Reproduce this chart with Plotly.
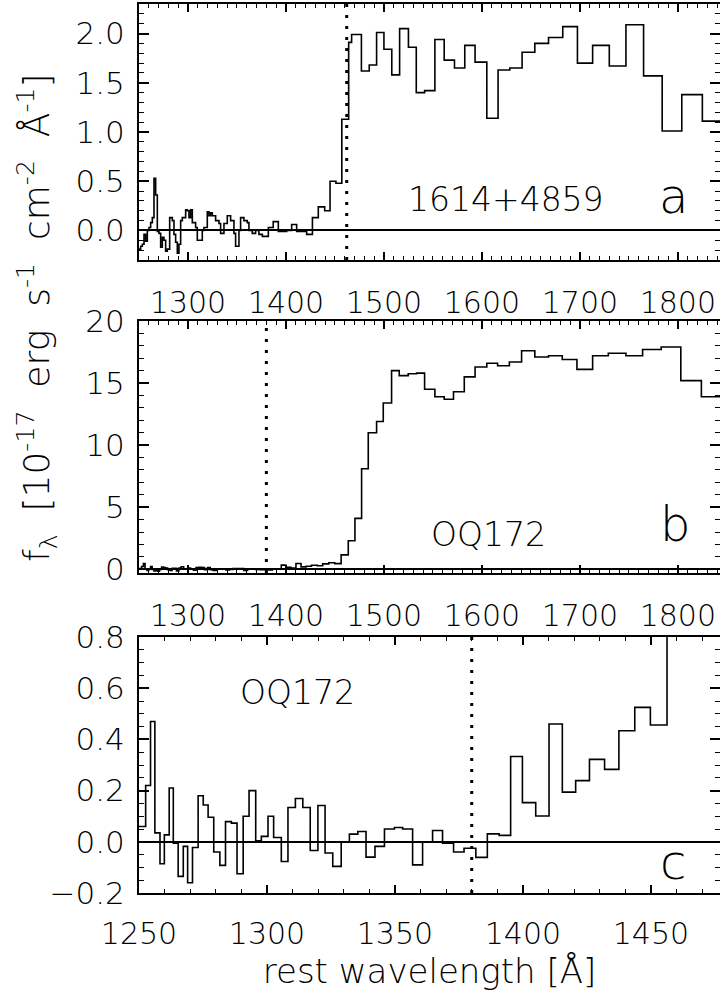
import plotly.graph_objects as go

# ---------------- data ----------------
# 1614+4859 : bin start wavelengths (rest, Angstrom) and flux (1e-17 erg/s/cm2/A)
a_lo = [1250, 1251.7, 1253.4, 1255.1, 1256.8, 1258.5, 1260.2, 1261.9, 1263.6, 1265.3,
        1267, 1268.7, 1270.4, 1272.1, 1273.8, 1275.5, 1277.2, 1278.9, 1281.3, 1284,
        1285.7, 1287.4, 1289.1, 1290.8, 1292.5, 1294.2, 1297.6, 1299.3, 1301, 1302.7,
        1304.4, 1307.8, 1309.5, 1314.6, 1316.3, 1319.7, 1321.4, 1323.1, 1324.8, 1328.2,
        1331.6, 1333.3, 1336.7, 1340.1, 1343.5, 1346.9, 1348.6, 1352, 1353.7, 1357.1,
        1360.5, 1362.2, 1365.6, 1369, 1372.4, 1375.9, 1382, 1387, 1392.2, 1400.7,
        1405.8, 1410.9, 1421.1,
        1427, 1433, 1439.5, 1445, 1451, 1457, 1464, 1467, 1477, 1485,
        1492.5, 1500, 1508, 1516, 1525, 1533, 1541.5, 1552, 1561.5, 1572,
        1582.5, 1593, 1605, 1616.5, 1628.5, 1641, 1654, 1668, 1682.5, 1697.5,
        1713, 1730, 1747, 1765, 1784, 1804, 1825]
a_flux = [-0.19, -0.16, -0.14, -0.04, -0.11, 0.0, 0.03, 0.08, 0.13, 0.53,
          0.36, -0.01, -0.03, -0.17, -0.07, -0.10, -0.21, -0.19, 0.13, 0.10,
          -0.04, -0.12, -0.23, -0.14, 0.10, 0.13, 0.21, 0.20, 0.13, 0.21,
          0.08, 0.03, -0.10, 0.0, 0.03, 0.19, 0.15, 0.18, 0.15, 0.10,
          0.07, -0.03, 0.07, 0.15, 0.10, -0.03, -0.16, 0.0, 0.13, 0.10,
          0.08, 0.0, -0.03, 0.0, -0.04, -0.06, 0.03, 0.09, -0.01, 0.0,
          0.06, -0.01, -0.04,
          0.13, 0.24, 0.20, 0.50, 0.48, 1.13, 1.91, 1.99, 1.62, 1.68,
          2.01, 1.84, 1.58, 2.05, 1.86, 1.40, 1.42, 1.94, 1.73, 1.65,
          1.88, 1.71, 1.14, 1.63, 1.65, 1.81, 1.90, 1.96, 2.07, 1.70,
          1.88, 1.67, 2.09, 1.57, 1.01, 1.38, 1.11]
a_end = 1847

# OQ172 : bin start wavelengths and flux (used for panels b and c)
q_lo = [1250, 1252.6, 1254.5, 1256.2, 1258.2, 1259.9, 1261.8, 1263.4, 1265.3, 1267.3,
        1269, 1270.9, 1273.1, 1275.1, 1277, 1279.2, 1281.6, 1283.8, 1286.1, 1288.3,
        1290.7, 1293, 1295.6, 1297.8, 1300.4, 1302.6, 1305.6, 1308.2, 1311.1, 1314,
        1316.9, 1319.9, 1322.7, 1325.7, 1329, 1332.2, 1335.5, 1338.7, 1342.2, 1345.9,
        1349.8, 1353, 1356.9, 1360.8, 1364.7, 1368.6, 1372.9, 1377, 1381.6, 1386.1,
        1390.7, 1395.2, 1399.8, 1405, 1410.2, 1415.4, 1420.6, 1426, 1431.9, 1437.5,
        1443.7, 1449.8, 1456.3, 1463.6, 1470.4, 1477.2, 1484, 1492.5, 1499.3, 1507.8,
        1515.6, 1524.8, 1533.3, 1541.5, 1552, 1561.5, 1571, 1582, 1593, 1605,
        1616, 1628, 1640.5, 1654, 1668, 1682, 1697, 1713, 1729, 1747,
        1764, 1783, 1803, 1824]
q_flux = [0.06, 0.22, 0.47, 0.035, -0.086, 0.027, 0.21, -0.005, -0.135, -0.018,
          -0.16, -0.022, 0.18, 0.144, 0.096, -0.04, -0.092, 0.079, 0.073, -0.125,
          0.10, 0.20, 0.004, 0.021, 0.10, 0.017, -0.077, 0.134, 0.169, 0.134,
          -0.034, 0.142, -0.044, -0.096, 0.0, 0.03, 0.04, -0.06, -0.018, 0.05,
          0.056, 0.05, -0.09, 0.0, 0.044, -0.005, -0.04, -0.025, -0.061, 0.031,
          0.025, 0.333, 0.153, 0.101, 0.46, 0.194, 0.239, 0.322, 0.283, 0.434,
          0.525, 0.456, 1.16, 2.3, 4.1, 8.1, 11.0, 11.9, 13.4, 16.0,
          15.6, 15.75, 15.8, 14.5, 13.9, 13.7, 14.3, 15.5, 16.3, 16.6,
          16.4, 16.7, 17.6, 17.1, 17.2, 16.9, 16.1, 17.2, 17.4, 17.2,
          17.7, 17.9, 15.2, 13.9]
q_end = 1847

# dotted reference wavelengths
mark_a = 1462
mark_b = 1380
mark_c = 1380

FONT = "DejaVu Sans"
WEIGHT = 200

def steps(lo, flux, end):
    return list(lo) + [end], list(flux) + [flux[-1]]

def fnt(size):
    return dict(family=FONT, size=size, color="black", weight=WEIGHT)

fig = go.Figure()
line = dict(color="black", width=1.6, shape="hv")
xa, ya = steps(a_lo, a_flux, a_end)
xq, yq = steps(q_lo, q_flux, q_end)
fig.add_trace(go.Scatter(x=xa, y=ya, mode="lines", line=line, xaxis="x", yaxis="y", showlegend=False))
fig.add_trace(go.Scatter(x=xq, y=yq, mode="lines", line=line, xaxis="x2", yaxis="y2", showlegend=False))
fig.add_trace(go.Scatter(x=xq, y=yq, mode="lines", line=line, xaxis="x3", yaxis="y3", showlegend=False))

H = 998.0
W = 720.0
xdom = [139 / W, 1.0]
dom_a = [1 - 260 / H, 1 - 4 / H]
dom_b = [1 - 573 / H, 1 - 321 / H]
dom_c = [1 - 893 / H, 1 - 637 / H]

def xax(rng, dtick, t0, minor, anchor, standoff):
    return dict(domain=xdom, range=rng, anchor=anchor, dtick=dtick, tick0=t0,
                ticks="inside", ticklen=8, tickwidth=1.5, tickcolor="black",
                minor=dict(dtick=minor, ticks="inside", ticklen=4, tickwidth=1.2, tickcolor="black"),
                mirror="ticks", showline=True, linecolor="black", linewidth=2,
                showgrid=False, zeroline=False, automargin=False,
                tickfont=fnt(30), ticklabelstandoff=standoff)

def yax(rng, dtick, minor, dom, anchor, fmt=None):
    d = dict(domain=dom, range=rng, anchor=anchor, dtick=dtick, tick0=0,
             ticks="inside", ticklen=10, tickwidth=1.5, tickcolor="black",
             minor=dict(dtick=minor, ticks="inside", ticklen=5, tickwidth=1.2, tickcolor="black"),
             mirror="ticks", showline=True, linecolor="black", linewidth=2,
             showgrid=False, zeroline=True, zerolinecolor="black", zerolinewidth=1.5,
             automargin=False, tickfont=fnt(31), ticklabelstandoff=6)
    if fmt:
        d["tickformat"] = fmt
    return d

fig.update_layout(
    width=720, height=998,
    margin=dict(l=0, r=0, t=0, b=0, autoexpand=False),
    paper_bgcolor="white", plot_bgcolor="white",
    xaxis=xax([1250, 1843], 100, 1300, 10, "y", 15),
    xaxis2=xax([1250, 1843], 100, 1300, 10, "y2", 15),
    xaxis3=xax([1250, 1477], 50, 1250, 10, "y3", 13),
    yaxis=yax([-0.3, 2.3], 0.5, 0.1, dom_a, "x", ".1f"),
    yaxis2=yax([-0.3, 20], 5, 1, dom_b, "x2"),
    yaxis3=yax([-0.2, 0.8], 0.2, 0.05, dom_c, "x3", ".1f"),
)
fig.layout.xaxis3.title = dict(text="rest wavelength [Å]", font=fnt(34), standoff=6)

dot = dict(color="black", width=3, dash="3px,8px")
for xr, yr, xv in (("x", "y", mark_a), ("x2", "y2", mark_b), ("x3", "y3", mark_c)):
    fig.add_shape(type="line", xref=xr, yref=yr + " domain", x0=xv, x1=xv, y0=0, y1=1, line=dot)

def ann(text, x, y, size, **kw):
    fig.add_annotation(text=text, x=x, y=y, xref="paper", yref="paper", showarrow=False,
                       xanchor="center", yanchor="middle", font=fnt(size), **kw)

ann("1614+4859", 506 / W, 1 - 200 / H, 33)
ann("a", 673 / W, 1 - 196 / H, 48)
ann("OQ172", 488 / W, 1 - 534 / H, 33)
ann("b", 675 / W, 1 - 524 / H, 48)
ann("OQ172", 297 / W, 1 - 692 / H, 33)
ann("c", 673 / W, 1 - 862 / H, 48)
sp = "\u00a0"
ann("f<sub>λ</sub>" + sp + " [10<sup>-17</sup>" + sp + " erg" + sp + " s<sup>-1</sup>" + sp
    + " cm<sup>-2</sup>" + sp + " Å<sup>-1</sup>]",
    37 / W, 1 - 318 / H, 36, textangle=-90)

fig.write_html("out.html", config={"displayModeBar": False},
               post_script="document.body.style.margin='0';document.body.style.overflow='hidden';")
